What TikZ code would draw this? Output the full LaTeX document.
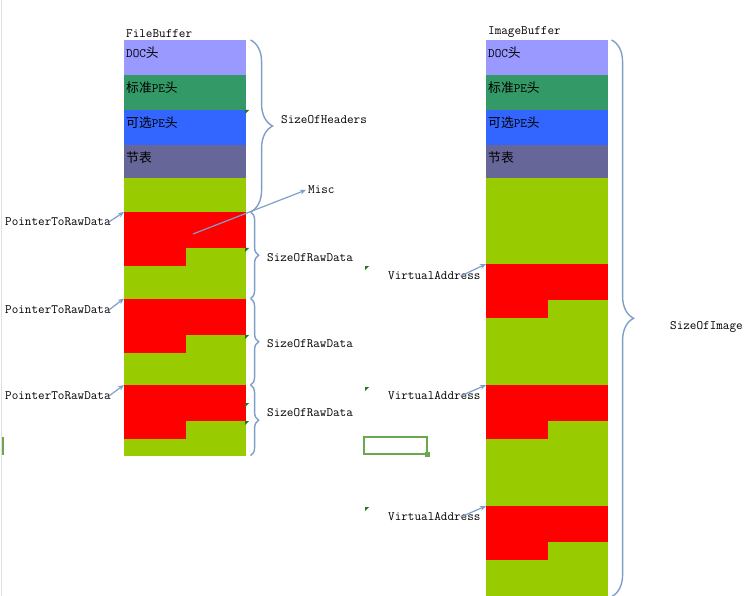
\documentclass[tikz,border=0pt]{standalone}
\usepackage{fontspec}
\newfontfamily\cjk{Noto Sans CJK SC}
\usepackage{tikz}
\usetikzlibrary{arrows.meta,positioning,calc,decorations.pathreplacing}
\usepackage{xcolor}
\definecolor{doccol}{HTML}{9999FF}
\definecolor{ntcol}{HTML}{339966}
\definecolor{optcol}{HTML}{3366FF}
\definecolor{seccol}{HTML}{666699}
\definecolor{padgreen}{HTML}{99CC00}
\definecolor{rawred}{HTML}{FF0000}
\definecolor{linkblue}{HTML}{7F9FC8}
\definecolor{selgreen}{HTML}{6AA84F}
\definecolor{markgreen}{HTML}{1F7A1F}
\newcommand{\zh}[1]{{\cjk #1}}

\begin{document}
\begin{tikzpicture}[x=1pt, y=-1pt,
    every node/.style={font=\ttfamily\fontsize{12.8}{14}\selectfont, inner sep=2pt},
    cell/.style={rectangle, anchor=north west, inner sep=0pt, minimum width=121pt, minimum height=34.5pt, fill=#1, draw=#1, line width=0.6pt},
    cellname/.style={anchor=north west, inner xsep=2pt, inner ysep=6.5pt},
    raw/.style={cell=rawred, minimum height=35pt},
    rawtail/.style={cell=rawred, minimum width=61pt, minimum height=17.5pt},
    brc/.style={draw=linkblue, line width=1.4pt, decorate, decoration={brace, amplitude=#1}},
    brc/.default=8pt,
    ptr/.style={draw=linkblue, line width=1.2pt, -{Stealth[length=6pt, width=5pt]}},
    cmtmark/.pic={\fill[markgreen] (0,0) -- (4,0) -- (0,4) -- cycle;}
]
\useasboundingbox (0,0) rectangle (755,596);
\draw[black!12] (1,0) -- (1,596);

% file buffer
\node[anchor=south west] (fbuf) at (124,40) {FileBuffer};
\node[cell=doccol, label={[cellname]north west:DOC\zh{头}}] (fdoc) at (124,40) {};
\node[cell=ntcol, below=0pt of fdoc, label={[cellname]north west:\zh{标准}PE\zh{头}}] (fnt) {};
\node[cell=optcol, below=0pt of fnt, label={[cellname]north west:\zh{可选}PE\zh{头}}] (fopt) {};
\node[cell=seccol, below=0pt of fopt, label={[cellname]north west:\zh{节表}}] (fsec) {};
\node[cell=padgreen, minimum height=277pt] (fbody) at (124,178) {};
\node[raw] (fraw1) at (124,212) {};
\node[rawtail] (frawt1) at (fraw1.south west) {};
\node[raw] (fraw2) at (124,298.5) {};
\node[rawtail] (frawt2) at (fraw2.south west) {};
\node[raw] (fraw3) at (124,385) {};
\node[rawtail] (frawt3) at (fraw3.south west) {};

% image buffer
\node[anchor=south west] (ibuf) at (486,40) {ImageBuffer};
\node[cell=doccol, label={[cellname]north west:DOC\zh{头}}] (idoc) at (486,40) {};
\node[cell=ntcol, below=0pt of idoc, label={[cellname]north west:\zh{标准}PE\zh{头}}] (int) {};
\node[cell=optcol, below=0pt of int, label={[cellname]north west:\zh{可选}PE\zh{头}}] (iopt) {};
\node[cell=seccol, below=0pt of iopt, label={[cellname]north west:\zh{节表}}] (isec) {};
\node[cell=padgreen, minimum height=418pt] (ibody) at (486,178) {};
\node[raw] (iraw1) at (486,264) {};
\node[rawtail] (irawt1) at (iraw1.south west) {};
\node[raw] (iraw2) at (486,385) {};
\node[rawtail] (irawt2) at (iraw2.south west) {};
\node[raw] (iraw3) at (486,506) {};
\node[rawtail] (irawt3) at (iraw3.south west) {};

% braces
\draw[brc=22pt] ([xshift=5pt]fdoc.north east) -- ([xshift=5pt]fraw1.north east);
\node[anchor=west] (hdrsize) at (279,120) {SizeOfHeaders};
\draw[brc] ([xshift=5pt]fraw1.north east) -- ([xshift=5pt]fraw2.north east);
\draw[brc] ([xshift=5pt]fraw2.north east) -- ([xshift=5pt]fraw3.north east);
\draw[brc] ([xshift=5pt]fraw3.north east) -- ([xshift=5pt]fbody.south east);
\node[anchor=west] (rawsize1) at (265,258) {SizeOfRawData};
\node[anchor=west] (rawsize2) at (265,344) {SizeOfRawData};
\node[anchor=west] (rawsize3) at (265,413) {SizeOfRawData};
\draw[brc=22pt] ([xshift=4pt]idoc.north east) -- ([xshift=4pt]ibody.south east);
\node[anchor=west] (imgsize) at (668,327) {SizeOfImage};

% pointers
\node[anchor=west] (ptr1) at (3,222) {PointerToRawData};
\node[anchor=west] (ptr2) at (3,310) {PointerToRawData};
\node[anchor=west] (ptr3) at (3,396) {PointerToRawData};
\draw[ptr] ([xshift=-4pt]ptr1.east) -- (fraw1.north west);
\draw[ptr] ([xshift=-4pt]ptr2.east) -- (fraw2.north west);
\draw[ptr] ([xshift=-4pt]ptr3.east) -- (fraw3.north west);
\node[anchor=west] (va1) at (386,276) {VirtualAddress};
\node[anchor=west] (va2) at (386,396) {VirtualAddress};
\node[anchor=west] (va3) at (386,517) {VirtualAddress};
\draw[ptr] ([xshift=-22pt]va1.east) -- (iraw1.north west);
\draw[ptr] ([xshift=-22pt]va2.east) -- (iraw2.north west);
\draw[ptr] ([xshift=-22pt]va3.east) -- (iraw3.north west);
\node[anchor=west] (misc) at (306,190) {Misc};
\coordinate (miscsrc) at (193,234);
\draw[ptr] (miscsrc) -- (misc.west);

% spreadsheet marks
\pic at (245,110) {cmtmark};
\pic at (245,248) {cmtmark};
\pic at (245,335) {cmtmark};
\pic at (245,403) {cmtmark};
\pic at (245,421) {cmtmark};
\pic at (365,266) {cmtmark};
\pic at (365,387) {cmtmark};
\pic at (365,507) {cmtmark};
\draw[selgreen, line width=2.5pt] (364,437) rectangle (427,454);
\fill[selgreen] (424.5,451.5) rectangle (429.5,456.5);
\fill[selgreen] (1.5,437) rectangle (4,455);
\end{tikzpicture}
\end{document}
